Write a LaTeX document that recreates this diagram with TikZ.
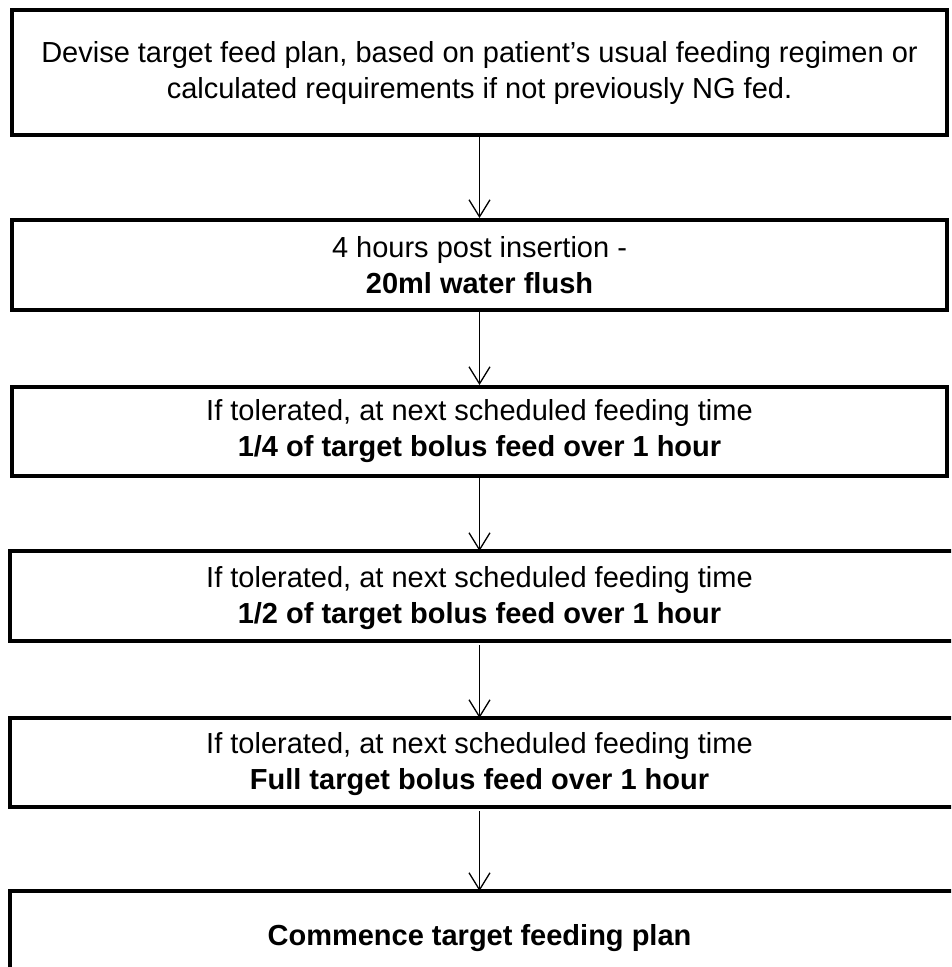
\documentclass[tikz,border=0pt]{standalone}
\usepackage{fontspec}
\setmainfont{Liberation Sans}
\usetikzlibrary{arrows.meta}

\tikzset{
  stepbox/.style={draw,line width=4pt,minimum width=935pt,align=center,
    inner sep=0pt,font=\fontsize{29}{36}\selectfont},
  openbox/.style={stepbox,draw=none},
  boxline/.style={line width=4pt},
  flow/.style={line width=1.3pt,-{Straight Barb[length=17pt,width=21pt]}}
}

\begin{document}
\begin{tikzpicture}[x=1pt,y=-1pt]
        \clip (0,0) rectangle (951,967);
        \fill[white] (0,0) rectangle (951,967);

        \node[stepbox,minimum height=125pt] (plan) at (479.5,72.5)
          {Devise target feed plan, based on patient’s usual feeding regimen or\\
           calculated requirements if not previously NG fed.};
        \node[stepbox,minimum height=90pt] (flush) at (479.5,265)
          {4 hours post insertion -\\ \textbf{20ml water flush}};
        \node[stepbox,minimum height=89pt] (quarter) at (479.5,431.5)
          {If tolerated, at next scheduled feeding time\\
           \textbf{1/4 of target bolus feed over 1 hour}};
        \node[openbox,minimum height=90pt] (half) at (479.5,598)
          {If tolerated, at next scheduled feeding time\\
           \textbf{1/2 of target bolus feed over 1 hour}};
        \node[openbox,minimum height=89pt] (full) at (479.5,764.5)
          {If tolerated, at next scheduled feeding time\\
           \textbf{Full target bolus feed over 1 hour}};
        \node[openbox,minimum height=90pt] (commence) at (479.5,938)
          {\textbf{Commence target feeding plan}};

        \draw[boxline] (half.north west) rectangle ++(1000,90);
        \draw[boxline] (full.north west) rectangle ++(1000,89);
        \draw[boxline] (commence.north west) rectangle ++(1000,90);

        \draw[flow] (plan) -- (flush);
        \draw[flow] (flush) -- (quarter);
        \draw[flow] (quarter) -- (half);
        \draw[flow] (half) -- (full);
        \draw[flow] (full) -- (commence);
\end{tikzpicture}
\end{document}
